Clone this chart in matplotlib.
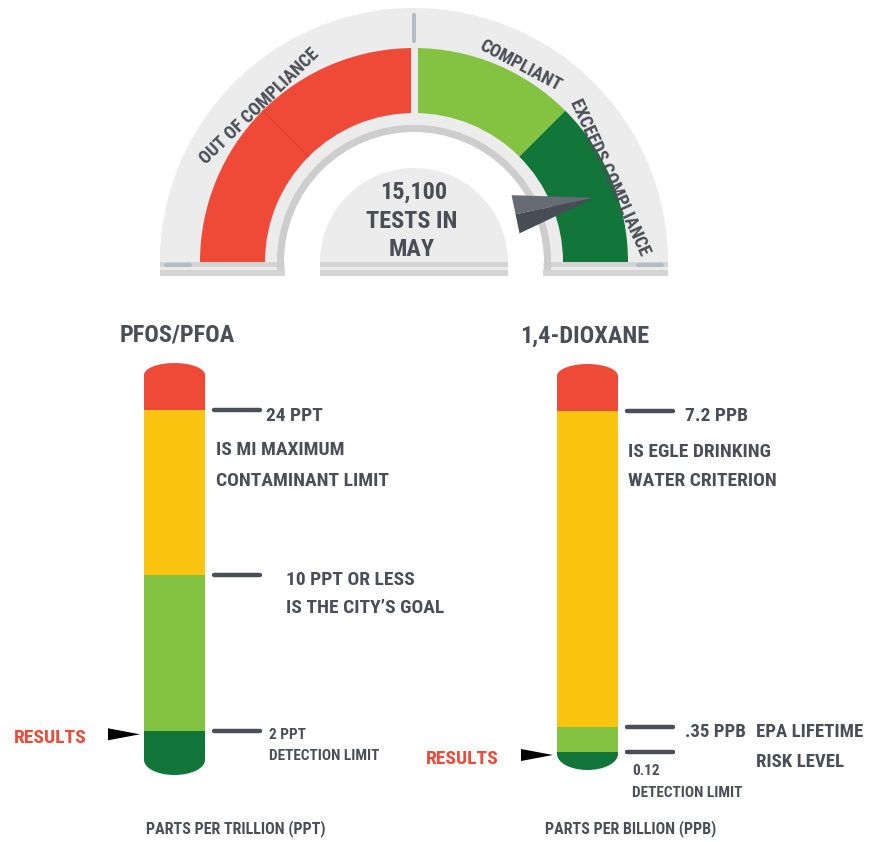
import numpy as np
import matplotlib.pyplot as plt
from matplotlib.patches import Wedge, Rectangle, Ellipse, Polygon

W, H = 871, 842
FONT = ['Roboto Condensed', 'Liberation Sans Narrow', 'DejaVu Sans']
DARK = '#4a4f57'

# gauge data
gauge_labels = ["OUT OF COMPLIANCE", "", "COMPLIANT", "EXCEEDS COMPLIANCE"]
gauge_shares = [0.25, 0.25, 0.25, 0.25]
gauge_colors = ["#ee4a37", "#ee4a37", "#84c341", "#12753a"]
tests_count = "15,100"
tests_month = "MAY"
needle_value = 0.885

# PFOS/PFOA thermometer
pfos_title = "PFOS/PFOA"
pfos_limits = [2, 10, 24]
pfos_colors = ["#12753a", "#84c341", "#fbc410", "#ee4a37"]
pfos_notes = [["2 PPT", "DETECTION LIMIT"],
              ["10 PPT OR LESS", "IS THE CITY\u2019S GOAL"],
              ["24 PPT", "IS MI MAXIMUM", "CONTAMINANT LIMIT"]]
pfos_result = 1.85
pfos_unit = "PARTS PER TRILLION (PPT)"

# 1,4-dioxane thermometer
diox_title = "1,4-DIOXANE"
diox_limits = [0.12, 0.35, 7.2]
diox_colors = ["#12753a", "#84c341", "#fbc410", "#ee4a37"]
diox_notes = [["0.12", "DETECTION LIMIT"],
              [".35 PPB", "EPA LIFETIME", "RISK LEVEL"],
              ["7.2 PPB", "IS EGLE DRINKING", "WATER CRITERION"]]
diox_result = 0.12
diox_unit = "PARTS PER BILLION (PPB)"

fig = plt.figure(figsize=(W / 100, H / 100), dpi=100)
ax = fig.add_axes([0, 0, 1, 1])
ax.set_xlim(0, W)
ax.set_ylim(H, 0)
ax.axis('off')


def txt(x, y, s, size, color=DARK, **kw):
    kw.setdefault('ha', 'left')
    kw.setdefault('va', 'center')
    ax.text(x, y, s, fontsize=size, color=color, family=FONT,
            fontweight='bold', **kw)


# ---- gauge ----
cx, cy = 414, 262
r_out, r_col, r_in, r_ring, r_core = 254, 214, 149, 137, 94
GRAY, SHADOW = '#ececec', '#d4d4d4'

# feet + shadows
for x0, x1 in [(cx - r_out, cx - r_ring + 8), (cx + r_ring - 8, cx + r_out),
               (cx - r_core, cx + r_core)]:
    ax.add_patch(Rectangle((x0, cy), x1 - x0, 14, color=SHADOW, lw=0))
    ax.add_patch(Rectangle((x0, cy), x1 - x0, 8, color=GRAY, lw=0))
ax.add_patch(Wedge((cx, cy + 5), r_out, 180, 360, width=r_out - r_ring,
                   color=SHADOW, lw=0))
ax.add_patch(Wedge((cx, cy), r_out, 180, 360, width=r_out - r_ring,
                   color=GRAY, lw=0))
ax.add_patch(Wedge((cx, cy), r_ring, 180, 360, width=7, color='#cdcdcd', lw=0))
ax.add_patch(Rectangle((cx - r_ring, cy), 7, 8, color='#cdcdcd', lw=0))
ax.add_patch(Rectangle((cx + r_ring - 7, cy), 7, 8, color='#cdcdcd', lw=0))

# coloured band, left to right (screen angles 180 -> 0)
a = 180.0
edges = [a]
for share, col in zip(gauge_shares, gauge_colors):
    a2 = a - share * 180
    ax.add_patch(Wedge((cx, cy), r_col, -a, -a2, width=r_col - r_in,
                       color=col, lw=0))
    a = a2
    edges.append(a)

# thin divider inside red, gap between red and green
t = np.radians(edges[1])
ax.plot([cx + r_in * np.cos(t), cx + r_col * np.cos(t)],
        [cy - r_in * np.sin(t), cy - r_col * np.sin(t)], color='#d9402f', lw=0.8)
ax.plot([cx, cx], [cy - r_in, cy - r_col - 1], color=GRAY, lw=5)

# ticks
ax.plot([cx, cx], [15, 41], color='#b4bcc4', lw=3, solid_capstyle='round')
ax.plot([166, 190], [cy + 3, cy + 3], color='#b4bcc4', lw=3, solid_capstyle='round')
ax.plot([638, 662], [cy + 3, cy + 3], color='#b4bcc4', lw=3, solid_capstyle='round')

# centre disc
ax.add_patch(Wedge((cx, cy + 5), r_core, 180, 360, color=SHADOW, lw=0))
ax.add_patch(Wedge((cx, cy), r_core, 180, 360, color=GRAY, lw=0))
txt(cx, 192, tests_count, 17.5, ha='center')
txt(cx - 2, 221, "TESTS IN", 17.5, ha='center')
txt(cx - 2, 250, tests_month, 17.5, ha='center')

# gauge labels along the arc
lab_ang = [134, None, 62, 24.5]
lab_rad = [222, None, 227, 215]
for lab, ang, rr in zip(gauge_labels, lab_ang, lab_rad):
    if not lab:
        continue
    t = np.radians(ang)
    txt(cx + rr * np.cos(t), cy + 4 - rr * np.sin(t), lab, 13,
        ha='center', rotation=ang - 90, rotation_mode='anchor')

# needle
na = np.radians(180 * (1 - needle_value))
tip = (cx + 193 * np.cos(na), cy + 4 - 193 * np.sin(na))
base = (cx + 114 * np.cos(na + 0.11), cy + 4 - 114 * np.sin(na + 0.11))
d = np.array(tip) - np.array(base)
n = np.array([d[1], -d[0]]) / np.hypot(*d) * 19.5
top = (base[0] - n[0], base[1] - n[1])
bot = (base[0] + n[0], base[1] + n[1])
if top[1] > bot[1]:
    top, bot = bot, top
ax.add_patch(Polygon([top, tip, base], color='#676b74', lw=0))
ax.add_patch(Polygon([base, tip, bot], color='#484c54', lw=0))


# ---- thermometers ----
def thermometer(x0, width, y_top, y_bot, limits, limit_y, colors, notes,
                note_xy, note_size, result, title, title_x, unit, unit_x,
                res_x, cap_b):
    cap_t = 12
    ys = [y_bot - cap_b] + list(limit_y) + [y_top + cap_t]
    ax.add_patch(Ellipse((x0 + width / 2, y_top + cap_t), width, 2 * cap_t,
                         color=colors[-1], lw=0))
    ax.add_patch(Ellipse((x0 + width / 2, y_bot - cap_b), width, 2 * cap_b,
                         color=colors[0], lw=0))
    for i, col in enumerate(colors):
        y0, y1 = ys[i], ys[i + 1]
        ax.add_patch(Rectangle((x0, y1), width, y0 - y1, color=col, lw=0))
    # limit markers
    for ly in limit_y:
        ax.plot([x0 + width + 9, x0 + width + 55], [ly, ly], color=DARK,
                lw=3.2, solid_capstyle='round')
    for lines, xy, sz in zip(notes, note_xy, note_size):
        for s, (nx, ny) in zip(lines, xy):
            txt(nx, ny, s, sz)
    # result arrow
    ry = np.interp(result, [0] + list(limits), [y_bot] + list(limit_y))
    ry = max(ry, limit_y[0] + 3)
    tipx = x0 - 4
    ax.add_patch(Polygon([(tipx - 32, ry - 6), (tipx, ry), (tipx - 32, ry + 6)],
                         color='black', lw=0))
    txt(res_x, ry + 4, "RESULTS", 14, color='#ee4a37')
    txt(title_x, y_top - 28, title, 17.5, ha='center')
    txt(unit_x, 829, unit, 11.5, ha='center')


thermometer(144, 61, 363, 775, pfos_limits, [731, 575, 410], pfos_colors,
            pfos_notes,
            [[(269, 735), (269, 756)],
             [(286, 580), (286, 608)],
             [(266, 416), (216, 450), (216, 481)]],
            [11, 14, 14],
            pfos_result, pfos_title, 177, pfos_unit, 236, 14, 15)

thermometer(557, 61, 364, 770, diox_limits, [752, 727, 411], diox_colors,
            diox_notes,
            [[(632, 771), (632, 793)],
             [(685, 732), (756, 732), (756, 762)],
             [(685, 416), (628, 452), (628, 481)]],
            [11, 13.5, 14],
            diox_result, diox_title, 585, diox_unit, 631, 426, 16)

fig.savefig('out.png', dpi=100)
